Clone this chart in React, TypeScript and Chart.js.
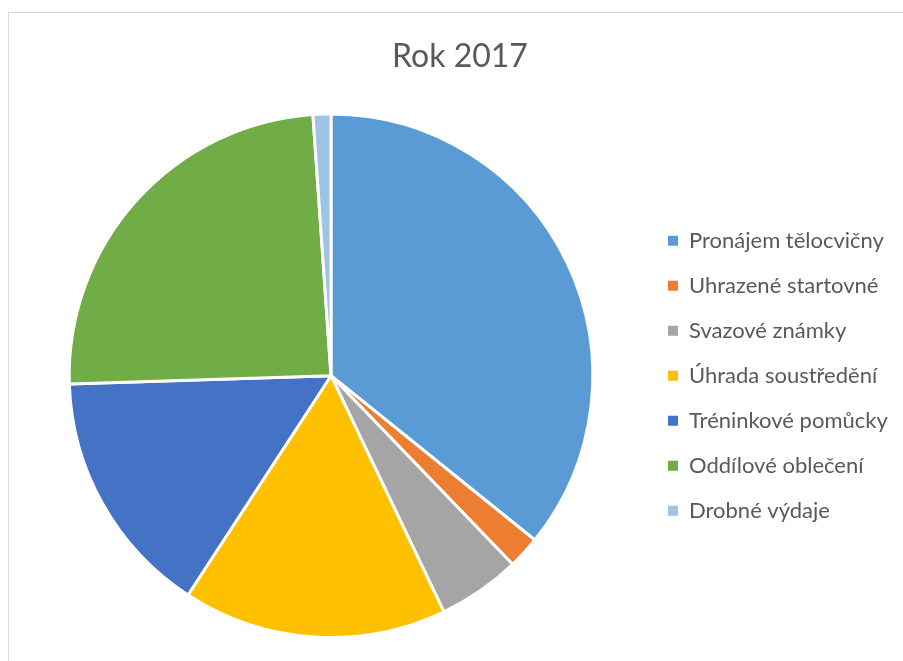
import React, { useEffect, useRef } from "react";
import Chart from "chart.js/auto";

const TITLE = "Rok 2017";
const CATEGORIES = [
  "Pronájem tělocvičny",
  "Uhrazené startovné",
  "Svazové známky",
  "Úhrada soustředění",
  "Tréninkové pomůcky",
  "Oddílové oblečení",
  "Drobné výdaje",
];
const VALUES = [35.8, 2.0, 5.1, 16.3, 15.3, 24.4, 1.1];
const COLORS = ["#5B9BD5", "#ED7D31", "#A5A5A5", "#FFC000", "#4472C4", "#70AD47", "#9DC3E6"];

const LEGEND_WIDTH = 258;

export default function App() {
  const ref = useRef<HTMLCanvasElement | null>(null);

  useEffect(() => {
    if (!ref.current) return;
    const baseGen = (Chart as any).overrides.pie.plugins.legend.labels.generateLabels;
    const legendWidthPlugin = {
      id: "legendWidth",
      beforeUpdate(chart: any) {
        const lg = chart.legend;
        if (lg && !lg._fixedWidth) {
          const orig = lg.fit;
          lg.fit = function (this: any) {
            orig.call(this);
            this.width = LEGEND_WIDTH;
          };
          lg._fixedWidth = true;
        }
      },
    };
    const chart = new Chart(ref.current, {
      type: "pie",
      data: {
        labels: CATEGORIES,
        datasets: [
          {
            data: VALUES,
            backgroundColor: COLORS,
            borderColor: "#ffffff",
            borderWidth: 3,
          },
        ],
      },
      plugins: [legendWidthPlugin],
      options: {
        responsive: false,
        animation: false,
        devicePixelRatio: 1,
        layout: { padding: { left: 17, right: 0, top: 0, bottom: 22 } },
        plugins: {
          title: {
            display: true,
            text: TITLE,
            color: "#595959",
            font: { family: "Lato", size: 32, weight: "normal" },
            padding: { top: 37, bottom: 37 },
          },
          legend: {
            position: "right",
            align: "center",
            fullSize: false,
            labels: {
              color: "#595959",
              font: { family: "Lato", size: 22 },
              boxWidth: 10,
              boxHeight: 10,
              padding: 23,
              generateLabels: (c: any) =>
                baseGen(c).map((l: any) => ({ ...l, lineWidth: 0 })),
            },
          },
          tooltip: { enabled: false },
        },
      },
    });
    return () => chart.destroy();
  }, []);

  return (
    <div
      style={{
        position: "fixed",
        left: 0,
        top: 0,
        width: 903,
        height: 661,
        overflow: "hidden",
        background: "#ffffff",
      }}
    >
      <div
        style={{
          position: "absolute",
          left: 8,
          top: 12,
          width: 1000,
          height: 1000,
          border: "1px solid #d9d9d9",
          boxSizing: "border-box",
        }}
      />
      <canvas
        ref={ref}
        width={903}
        height={661}
        style={{ position: "absolute", left: 0, top: 0, width: 903, height: 661 }}
      />
    </div>
  );
}
